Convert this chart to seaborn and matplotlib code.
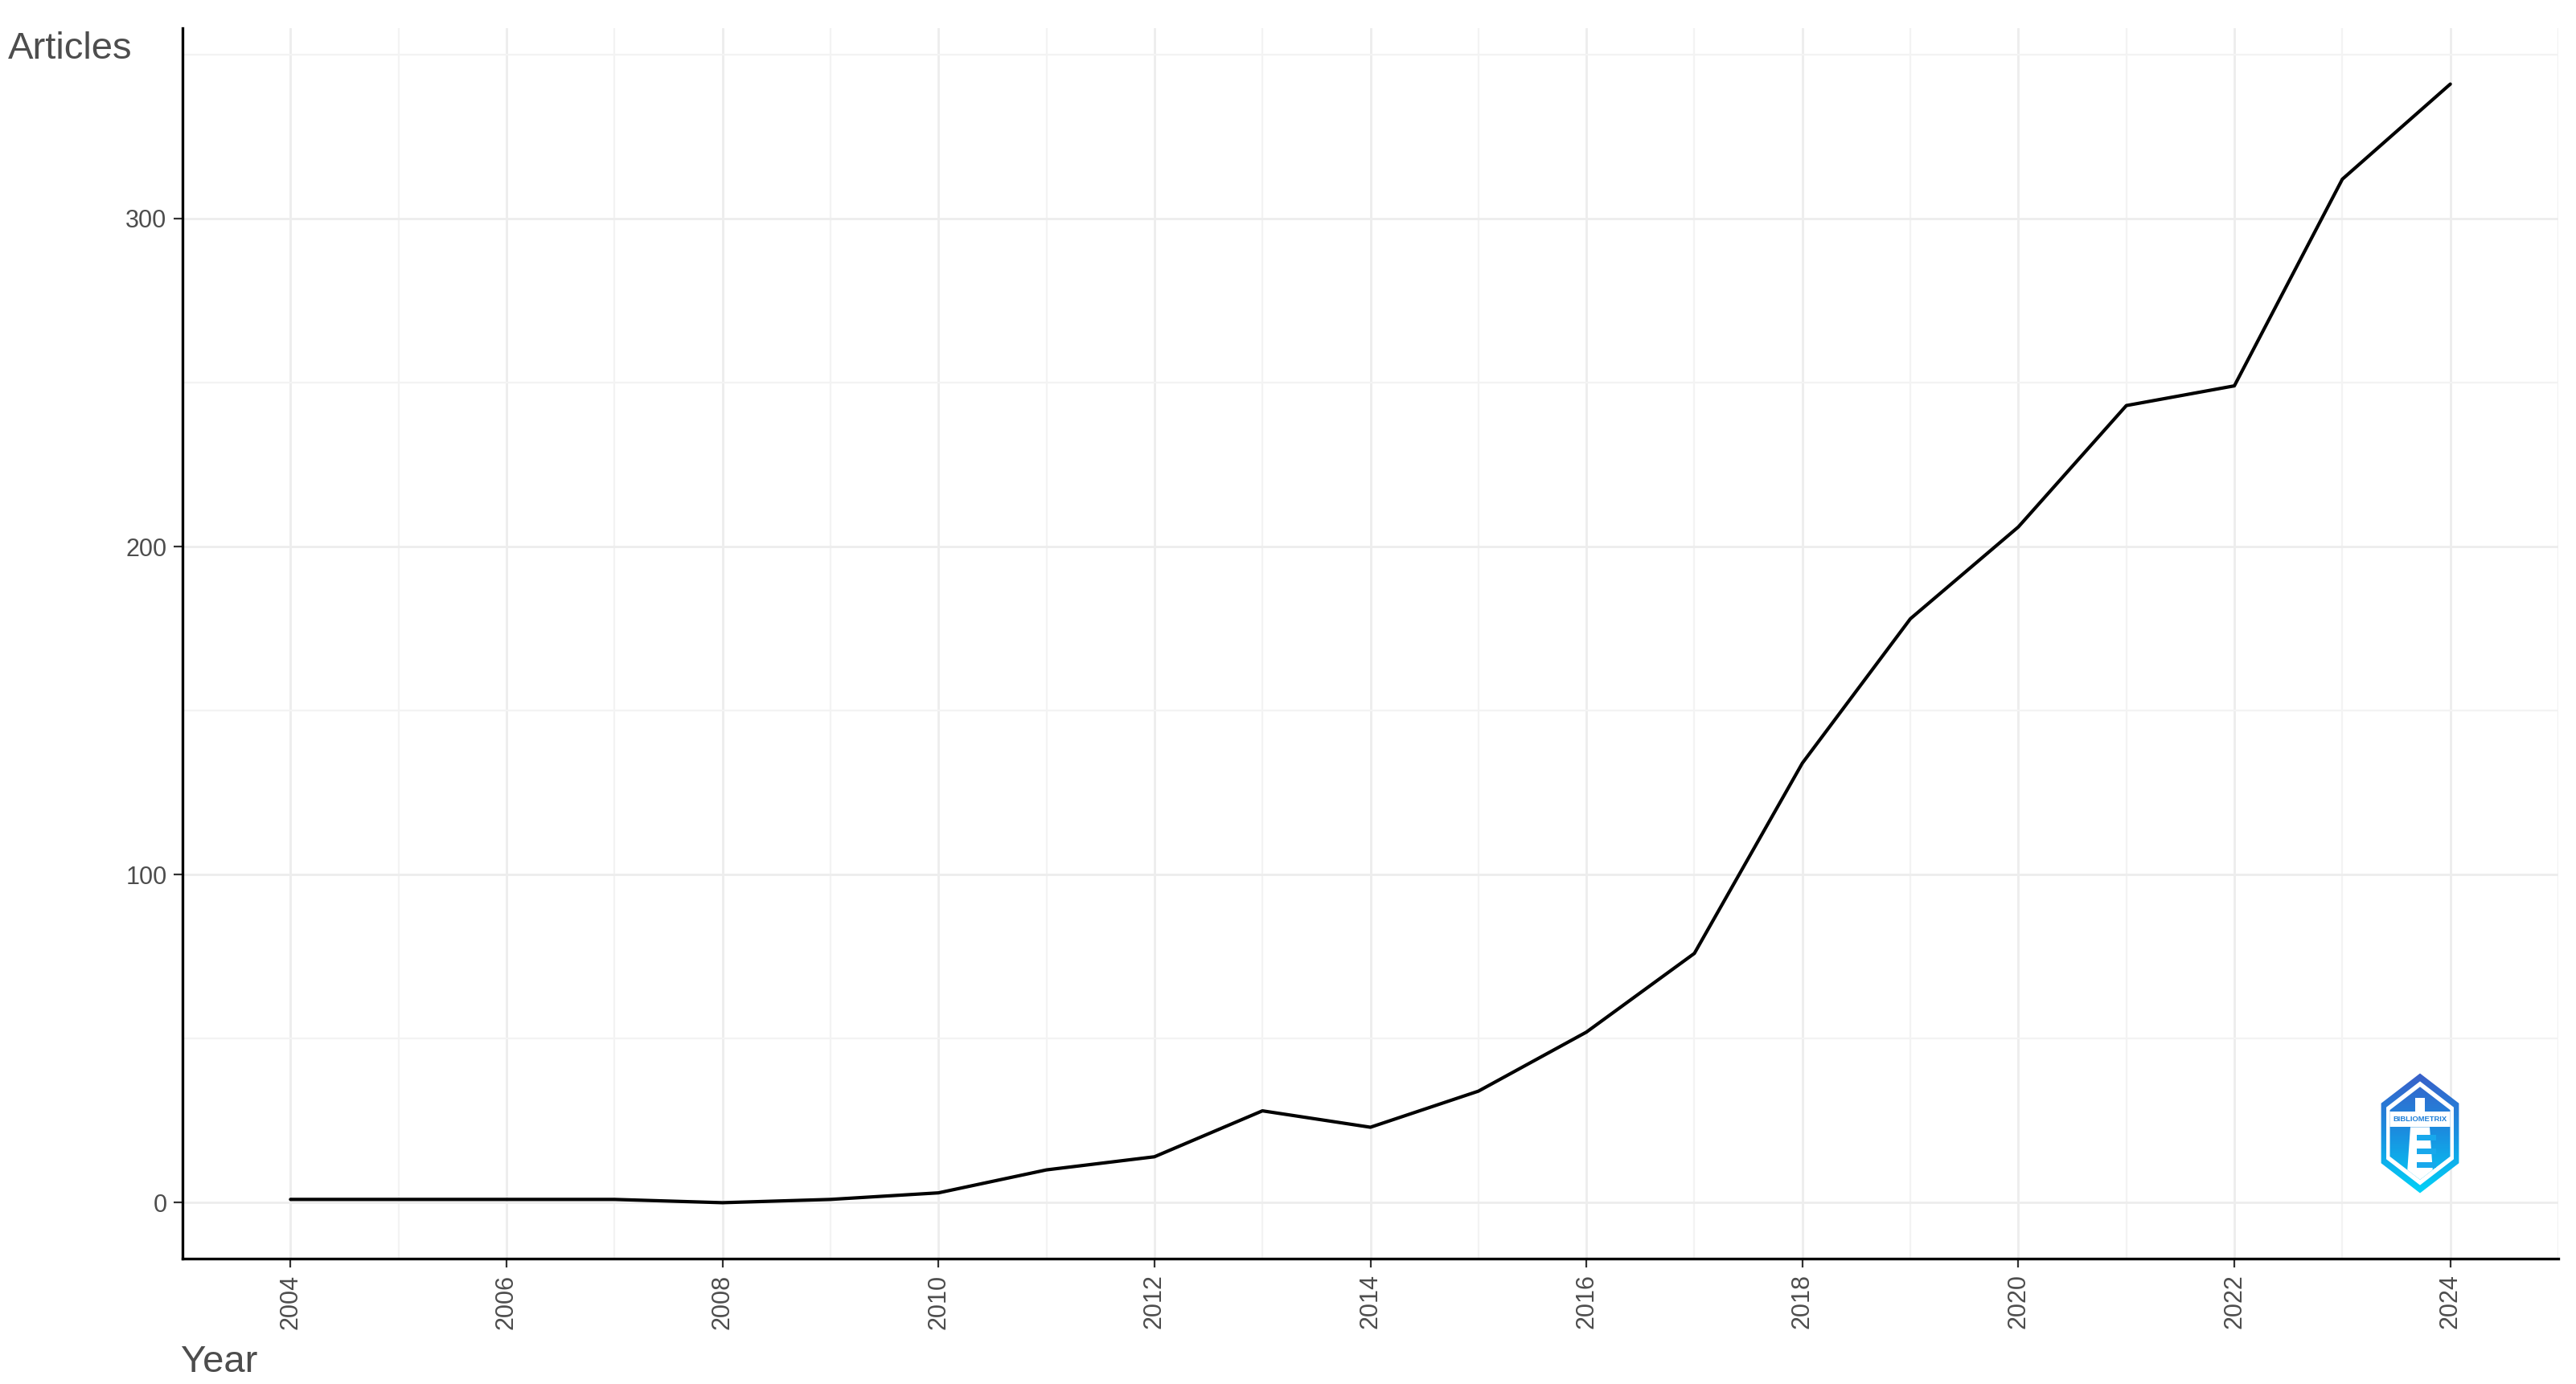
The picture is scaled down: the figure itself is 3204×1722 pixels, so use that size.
import numpy as np
import pandas as pd
import seaborn as sns
import matplotlib.pyplot as plt
from matplotlib.patches import Polygon, Rectangle
from matplotlib.ticker import MultipleLocator

# Annual scientific production
years = [2004, 2005, 2006, 2007, 2008, 2009, 2010, 2011, 2012, 2013, 2014,
         2015, 2016, 2017, 2018, 2019, 2020, 2021, 2022, 2023, 2024]
articles = [1, 1, 1, 1, 0, 1, 3, 10, 14, 28, 23,
            34, 52, 76, 134, 178, 206, 243, 249, 312, 341]

x_ticks = [2004, 2006, 2008, 2010, 2012, 2014, 2016, 2018, 2020, 2022, 2024]
y_ticks = [0, 100, 200, 300]

W, H, DPI = 3205, 1722, 200


def add_logo(fig):
    """ Draw a simple bibliometrix-style hexagon badge in the corner. """
    x0, y0, w, h = 2950 / W, 1 - 1486 / H, 120 / W, 152 / H
    lax = fig.add_axes([x0, y0, w, h])
    lax.set_xlim(-1, 1)
    lax.set_ylim(-1, 1)
    lax.axis('off')

    def hexagon(r, rx=0.95):
        ang = np.deg2rad(np.arange(90, 450, 60))
        return np.column_stack([rx * r * np.cos(ang), r * np.sin(ang)])

    grad = np.linspace(0, 1, 256).reshape(-1, 1)
    cmap = sns.blend_palette(['#00D4F8', '#1A8FE0', '#3A5EC8'], as_cmap=True)

    outer = Polygon(hexagon(0.98), closed=True, facecolor='none', edgecolor='none')
    lax.add_patch(outer)
    im = lax.imshow(grad, extent=[-1, 1, -1, 1], origin='lower', cmap=cmap,
                    aspect='auto', zorder=1)
    im.set_clip_path(outer)

    lax.add_patch(Polygon(hexagon(0.85), closed=True, facecolor='white',
                          edgecolor='none', zorder=2))

    inner = Polygon(hexagon(0.76), closed=True, facecolor='none', edgecolor='none')
    lax.add_patch(inner)
    im2 = lax.imshow(grad, extent=[-1, 1, -1, 1], origin='lower', cmap=cmap,
                     aspect='auto', zorder=3)
    im2.set_clip_path(inner)

    # white band with the name, and a small lighthouse shape, kept inside
    shapes = [
        Rectangle((-1, 0.1), 2, 0.26, facecolor='white', edgecolor='none', zorder=4),
        Rectangle((-0.1, 0.36), 0.2, 0.22, facecolor='white', edgecolor='none', zorder=4),
        Polygon([[-0.2, 0.1], [0.2, 0.1], [0.28, -0.8], [-0.28, -0.8]],
                closed=True, facecolor='white', edgecolor='none', zorder=4),
    ]
    for s in shapes:
        lax.add_patch(s)
        s.set_clip_path(inner)
    lax.text(0, 0.23, 'BIBLIOMETRIX', ha='center', va='center', fontsize=3.4,
             color='#1E7FD8', fontweight='bold', zorder=5)
    for yy in [-0.12, -0.34, -0.56]:
        lax.add_patch(Rectangle((-0.06, yy), 0.4, 0.09, facecolor='#18A8EC',
                                edgecolor='none', zorder=5))


def main():
    df = pd.DataFrame({'Year': years, 'Articles': articles})

    sns.set_theme(style='white')
    plt.rcParams['font.family'] = ['Liberation Sans', 'DejaVu Sans']

    fig = plt.figure(figsize=(W / DPI, H / DPI), dpi=DPI)
    ax = fig.add_axes([227 / W, 1 - 1566 / H, (3182 - 227) / W, (1566 - 35) / H])

    sns.lineplot(data=df, x='Year', y='Articles', ax=ax, color='black',
                 linewidth=1.5, zorder=3)

    # ggplot-like 5% expansion
    ax.set_xlim(2003, 2025)
    ax.set_ylim(-17.05, 358.05)

    ax.set_xticks(x_ticks)
    ax.set_yticks(y_ticks)
    ax.xaxis.set_minor_locator(MultipleLocator(1))
    ax.yaxis.set_minor_locator(MultipleLocator(50))
    ax.grid(which='major', color='#EDEDED', linewidth=1.0)
    ax.grid(which='minor', color='#F3F3F3', linewidth=0.8)
    ax.set_axisbelow(True)

    for side in ['top', 'right']:
        ax.spines[side].set_visible(False)
    for side in ['left', 'bottom']:
        ax.spines[side].set_color('black')
        ax.spines[side].set_linewidth(1.2)

    ax.tick_params(axis='both', which='major', length=4, width=0.8,
                   color='#333333', labelcolor='#4D4D4D', labelsize=11, pad=3,
                   bottom=True, left=True)
    ax.tick_params(axis='both', which='minor', length=0)
    plt.setp(ax.get_xticklabels(), rotation=90)

    ax.set_xlabel('')
    ax.set_ylabel('')
    fig.text(10 / W, 1 - 73 / H, 'Articles', ha='left', va='baseline',
             fontsize=17, color='#4D4D4D')
    fig.text(225 / W, 1 - 1707 / H, 'Year', ha='left', va='baseline',
             fontsize=17, color='#4D4D4D')

    add_logo(fig)

    fig.savefig('out.png', dpi=DPI)


if __name__ == "__main__":
    main()
